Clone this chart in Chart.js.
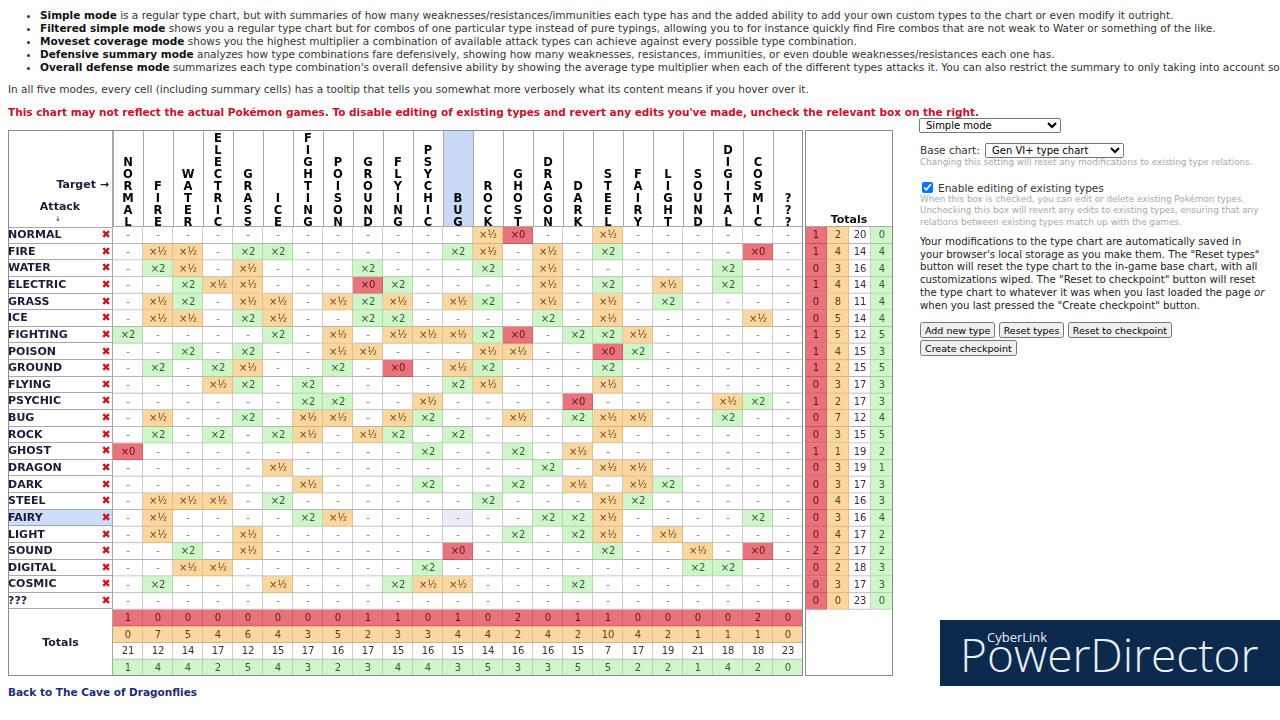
<!DOCTYPE html>
<html lang="en">
<head>
<meta charset="UTF-8">
<title>Type chart</title>
<script src="https://cdn.jsdelivr.net/npm/chart.js"></script>
<style>
  html, body { margin: 0; padding: 0; background: #fff; }
  body { width: 1280px; height: 720px; overflow: hidden; position: relative;
         font-family: 'DejaVu Sans', Verdana, sans-serif; font-size: 10.5px; color: #333; }
  .abs { position: absolute; white-space: nowrap; }
  ul.modes { position: absolute; left: 0; top: 9px; margin: 0; padding-left: 40px; line-height: 13px; white-space: nowrap; }
  ul.modes b { color: #111; }
  .warn { color: #c8102e; font-weight: bold; }
  .back { color: #1f2a78; font-weight: bold; }
  .side { position: absolute; left: 920px; color: #222; }
  .note { color: #a8a8a8; font-size: 8.8px; line-height: 11.3px; }
  select { font-family: 'DejaVu Sans'; font-size: 10px; height: 15px; padding: 0 2px; }
  button { font-family: 'DejaVu Sans'; font-size: 9.5px; height: 16px; padding: 0 3px; margin: 0; }
  #wm { position: absolute; left: 940px; top: 620px; width: 340px; height: 66px; background: #0c2a4d; color: #e9eff6; }
</style>
</head>
<body>
<ul class="modes">
  <li><b>Simple mode</b> is a regular type chart, but with summaries of how many weaknesses/resistances/immunities each type has and the added ability to add your own custom types to the chart or even modify it outright.</li>
  <li><b>Filtered simple mode</b> shows you a regular type chart but for combos of one particular type instead of pure typings, allowing you to for instance quickly find Fire combos that are not weak to Water or something of the like.</li>
  <li><b>Moveset coverage mode</b> shows you the highest multiplier a combination of available attack types can achieve against every possible type combination.</li>
  <li><b>Defensive summary mode</b> analyzes how type combinations fare defensively, showing how many weaknesses, resistances, immunities, or even double weaknesses/resistances each one has.</li>
  <li><b>Overall defense mode</b> summarizes each type combination's overall defensive ability by showing the average type multiplier when each of the different types attacks it. You can also restrict the summary to only taking into account some types.</li>
</ul>
<div class="abs" style="left:8px; top:83px; line-height:13px;">In all five modes, every cell (including summary cells) has a tooltip that tells you somewhat more verbosely what its content means if you hover over it.</div>
<div class="abs warn" style="left:8px; top:106px; line-height:13px;">This chart may not reflect the actual Pokémon games. To disable editing of existing types and revert any edits you've made, uncheck the relevant box on the right.</div>

<canvas id="grid" width="796" height="547" style="position:absolute; left:8px; top:130px;"></canvas>
<canvas id="totals" width="89" height="547" style="position:absolute; left:805px; top:130px;"></canvas>

<div class="abs back" style="left:8px; top:686px; line-height:13px;">Back to The Cave of Dragonflies</div>

<select class="abs" style="left:919px; top:118px; width:142px;"><option>Simple mode</option></select>
<div class="abs" style="left:920px; top:143px; line-height:15px;">Base chart: <select style="width:139px; margin-left:2px;"><option>Gen VI+ type chart</option></select></div>
<div class="abs note" style="left:920px; top:157px;">Changing this setting will reset any modifications to existing type relations.</div>
<div class="abs" style="left:920px; top:181px; line-height:14px;"><input type="checkbox" checked style="margin:0 5px 0 2px; width:11px; height:11px; vertical-align:-1px;">Enable editing of existing types</div>
<div class="side note" style="top:194px; width:345px;">When this box is checked, you can edit or delete existing Pokémon types. Unchecking this box will revert any edits to existing types, ensuring that any relations between existing types match up with the games.</div>
<div class="side" style="top:236px; width:345px; line-height:12.7px; font-size:10.2px;">Your modifications to the type chart are automatically saved in your browser's local storage as you make them. The "Reset types" button will reset the type chart to the in-game base chart, with all customizations wiped. The "Reset to checkpoint" button will reset the type chart to whatever it was when you last loaded the page <i>or</i> when you last pressed the "Create checkpoint" button.</div>
<div class="abs" style="left:920px; top:322px;"><button>Add new type</button> <button>Reset types</button> <button>Reset to checkpoint</button></div>
<div class="abs" style="left:920px; top:340px;"><button>Create checkpoint</button></div>

<div id="wm">
  <div class="abs" style="left:47px; top:8px; font-family:'Open Sans'; font-size:13px;">CyberLink</div>
  <div class="abs" style="left:20px; top:1px; font-family:'Open Sans'; font-weight:300; font-size:46px; line-height:66px;">PowerDirector</div>
</div>

<script>
// attacking (rows) and defending (columns) types
const types = ['NORMAL', 'FIRE', 'WATER', 'ELECTRIC', 'GRASS', 'ICE', 'FIGHTING', 'POISON', 'GROUND', 'FLYING',
  'PSYCHIC', 'BUG', 'ROCK', 'GHOST', 'DRAGON', 'DARK', 'STEEL', 'FAIRY', 'LIGHT', 'SOUND', 'DIGITAL', 'COSMIC', '???'];

// one string per attacking type: '-' = x1, '2' = x2, 'h' = x1/2, '0' = x0
const typeChart = [
  '------------h0--h------',
  '-hh-22-----2h-h-2----0-',
  '-2h-h---2---2-h-----2--',
  '--2hh---02----h-2-h-2--',
  '-h2-hh-h2h-h2-h-h-2----',
  '-hh-2h--22----2-h----h-',
  '2----2-h-hhh20-22h-----',
  '--2-2--hh---hh--02-----',
  '-2-2h--2-0-h2---2------',
  '---h2-2----2h---h------',
  '------22--h----0----h2-',
  '-h--2-hh-h2--h-2hh--2--',
  '-2-2-2h-h2-2----h------',
  '0---------2--2-h-------',
  '-----h--------2-hh-----',
  '------h---2--2-h-h2----',
  '-hhh-2------2---h2-----',
  '-h----2h------22h----2-',
  '-h--h--------2-2h-h----',
  '--2-h------0----2--h-0-',
  '--hh------2--------22--',
  '-2---h---2hh---2-------',
  '-----------------------'
];

// totals per attacking type (right block)
const rowZero    = [1, 1, 0, 1, 0, 0, 1, 1, 1, 0, 1, 0, 0, 1, 0, 0, 0, 0, 0, 2, 0, 0, 0];
const rowHalf    = [2, 4, 3, 4, 8, 5, 5, 4, 2, 3, 2, 7, 3, 1, 3, 3, 4, 3, 4, 2, 2, 3, 0];
const rowNeutral = [20, 14, 16, 14, 11, 14, 12, 15, 15, 17, 17, 12, 15, 19, 19, 17, 16, 16, 17, 17, 18, 17, 23];
const rowDouble  = [0, 4, 4, 4, 4, 4, 5, 3, 5, 3, 3, 4, 5, 2, 1, 3, 3, 4, 2, 2, 3, 3, 0];

// totals per defending type (bottom block)
const colZero    = [1, 0, 0, 0, 0, 0, 0, 0, 1, 1, 0, 1, 0, 2, 0, 1, 1, 0, 0, 0, 0, 2, 0];
const colHalf    = [0, 7, 5, 4, 6, 4, 3, 5, 2, 3, 3, 4, 4, 2, 4, 2, 10, 4, 2, 1, 1, 1, 0];
const colNeutral = [21, 12, 14, 17, 12, 15, 17, 16, 17, 15, 16, 15, 14, 16, 16, 15, 7, 17, 19, 21, 18, 18, 23];
const colDouble  = [1, 4, 4, 2, 5, 4, 3, 2, 3, 4, 4, 3, 5, 3, 3, 5, 5, 2, 2, 1, 4, 2, 0];

const totalKinds = ['0', 'h', '-', '2'];
const hoverRow = 17, hoverCol = 11;   // FAIRY row / BUG column highlighted

const fill = { '-': '#ffffff', '2': '#d0f5cb', 'h': '#fad7a0', '0': '#e9737d' };
const edge = { '-': '#b4b4b4', '2': '#a2d09c', 'h': '#dcb274', '0': '#c8525e' };
const ink  = { '-': '#777777', '2': '#2f5e2f', 'h': '#6e4b14', '0': '#6a0f18' };
const mark = { '-': '-', '2': '×2', 'h': '×½', '0': '×0' };
const numInk = { '-': '#333333', '2': '#2f5e2f', 'h': '#5e420f', '0': '#6a0f18' };

Chart.defaults.font.family = "'DejaVu Sans', Verdana, sans-serif";
Chart.defaults.animation = false;
Chart.defaults.events = [];
Chart.defaults.plugins.legend.display = false;
Chart.defaults.plugins.tooltip.enabled = false;

const rowCount = types.length + totalKinds.length;
const barBase = {
  grouped: false, barPercentage: 1, categoryPercentage: 1, borderSkipped: false,
  borderWidth: { top: 0, left: 0, right: 1, bottom: 1 }
};

function cellRow(r, codes, texts, inks, bgs) {
  return Object.assign({
    data: codes.map(() => [r - 0.5, r + 0.5]),
    backgroundColor: bgs || codes.map(c => fill[c]),
    borderColor: codes.map(c => edge[c]),
    cellText: texts,
    cellInk: inks
  }, barBase);
}

// main grid datasets
const gridSets = typeChart.map((row, r) => {
  const codes = row.split('');
  const bgs = codes.map((c, j) => (r === hoverRow && j === hoverCol) ? '#ececf9' : fill[c]);
  return cellRow(r, codes, codes.map(c => mark[c]), codes.map(c => ink[c]), bgs);
});
[colZero, colHalf, colNeutral, colDouble].forEach((vals, i) => {
  const k = totalKinds[i];
  gridSets.push(cellRow(types.length + i, vals.map(() => k), vals.map(String), vals.map(() => numInk[k])));
});

// right totals datasets
const totalSets = types.map((t, r) => {
  const vals = [rowZero[r], rowHalf[r], rowNeutral[r], rowDouble[r]];
  return cellRow(r, totalKinds, vals.map(String), totalKinds.map(k => numInk[k]));
});

function line(ctx, x1, y1, x2, y2) {
  ctx.beginPath(); ctx.moveTo(x1, y1); ctx.lineTo(x2, y2); ctx.stroke();
}
const px = v => Math.round(v) + 0.5;

const cellLabels = {
  id: 'cellLabels',
  afterDatasetsDraw(chart) {
    const ctx = chart.ctx;
    ctx.save();
    ctx.font = '10px "DejaVu Sans"';
    ctx.textAlign = 'center';
    ctx.textBaseline = 'middle';
    chart.data.datasets.forEach((ds, i) => {
      chart.getDatasetMeta(i).data.forEach((bar, j) => {
        ctx.fillStyle = ds.cellInk[j];
        ctx.fillText(ds.cellText[j], bar.x, (bar.y + bar.base) / 2 + 0.5);
      });
    });
    ctx.restore();
  }
};

const gridFrame = {
  id: 'gridFrame',
  beforeDraw(chart) {
    const { ctx, chartArea: a, scales: { x, y } } = chart;
    ctx.save();
    ctx.fillStyle = '#c9d9f7';
    const bx0 = x.getPixelForValue(hoverCol - 0.5), bx1 = x.getPixelForValue(hoverCol + 0.5);
    ctx.fillRect(bx0, 0, bx1 - bx0, a.top);
    ctx.fillStyle = '#cddcf8';
    const fy0 = y.getPixelForValue(hoverRow - 0.5), fy1 = y.getPixelForValue(hoverRow + 0.5);
    ctx.fillRect(0, fy0, a.left, fy1 - fy0);
    ctx.restore();
  },
  afterDraw(chart) {
    const { ctx, chartArea: a, scales: { x, y } } = chart;
    ctx.save();
    ctx.strokeStyle = '#a8a8a8';
    ctx.lineWidth = 1;
    // column borders in the header
    for (let j = 0; j <= types.length; j++) {
      const xx = px(x.getPixelForValue(j - 0.5) - (j === types.length ? 1 : 0));
      line(ctx, xx, 0, xx, a.top);
    }
    // row borders in the label column
    for (let r = 0; r <= types.length; r++) {
      const yy = px(y.getPixelForValue(r - 0.5) - (r === 0 ? 0 : 1));
      line(ctx, 0, yy, a.left, yy);
    }
    line(ctx, px(a.left - 1), px(a.top - 1), a.right, px(a.top - 1));
    line(ctx, px(a.left - 1), 0, px(a.left - 1), a.bottom);
    ctx.strokeStyle = '#8c8c8c';
    ctx.strokeRect(0.5, 0.5, a.right - 1, a.bottom - 1);

    // red delete marks
    ctx.fillStyle = '#d0141c';
    ctx.font = 'bold 11px "DejaVu Sans"';
    ctx.textAlign = 'center';
    ctx.textBaseline = 'middle';
    types.forEach((t, r) => ctx.fillText('✖', a.left - 7, y.getPixelForValue(r)));

    // header / footer captions
    ctx.fillStyle = '#1b1b3a';
    ctx.font = 'bold 11px "DejaVu Sans"';
    ctx.textAlign = 'right';
    ctx.fillText('Target →', a.left - 4, 55);
    ctx.textAlign = 'center';
    ctx.fillText('Attack', 52, 77);
    ctx.font = '7px "DejaVu Sans"';
    ctx.fillText('↓', 50, 89);
    ctx.font = 'bold 11px "DejaVu Sans"';
    ctx.fillText('Totals', a.left / 2, y.getPixelForValue(types.length + 1.5));
    ctx.restore();
  }
};

const totalsFrame = {
  id: 'totalsFrame',
  afterDraw(chart) {
    const { ctx, chartArea: a } = chart;
    ctx.save();
    ctx.strokeStyle = '#a8a8a8';
    line(ctx, 0, px(a.top - 1), a.right, px(a.top - 1));
    ctx.strokeStyle = '#8c8c8c';
    ctx.strokeRect(0.5, 0.5, a.right - 1, a.bottom - 1);
    ctx.restore();
  }
};

const rowLabels = types.concat(totalKinds.map(() => ''));

new Chart(document.getElementById('grid'), {
  type: 'bar',
  data: { labels: types.map(t => t.split('')), datasets: gridSets },
  options: {
    responsive: false,
    layout: { padding: { right: 1, bottom: 1, left: 0, top: 0 } },
    scales: {
      x: {
        position: 'top',
        grid: { display: false, drawTicks: false }, border: { display: false },
        ticks: { autoSkip: false, maxRotation: 0, padding: -2, color: '#000',
                 font: { weight: 'bold', size: 11.5, lineHeight: '12px' } },
        afterFit: s => { s.height = 97; }
      },
      y: {
        type: 'linear', reverse: true, min: -0.5, max: rowCount - 0.5,
        grid: { display: false }, border: { display: false },
        afterBuildTicks: s => { s.ticks = rowLabels.map((l, i) => ({ value: i })); },
        ticks: { autoSkip: false, crossAlign: 'far', padding: 0, color: '#1b1b3a',
                 font: { weight: 'bold', size: 11 },
                 callback: v => rowLabels[v] },
        afterFit: s => { s.width = 105; s.paddingTop = 0; s.paddingBottom = 0; }
      }
    }
  },
  plugins: [gridFrame, cellLabels]
});

new Chart(document.getElementById('totals'), {
  type: 'bar',
  data: { labels: totalKinds, datasets: totalSets },
  options: {
    responsive: false,
    layout: { padding: { right: 1, bottom: 1, left: 0, top: 0 } },
    scales: {
      x: {
        position: 'top',
        grid: { display: false }, border: { display: false },
        ticks: { display: false },
        title: { display: true, text: 'Totals', color: '#111', padding: { top: 84, bottom: 0 },
                 font: { weight: 'bold', size: 11 } },
        afterFit: s => { s.height = 97; }
      },
      y: {
        type: 'linear', reverse: true, min: -0.5, max: rowCount - 0.5, display: false
      }
    }
  },
  plugins: [totalsFrame, cellLabels]
});
</script>
</body>
</html>
